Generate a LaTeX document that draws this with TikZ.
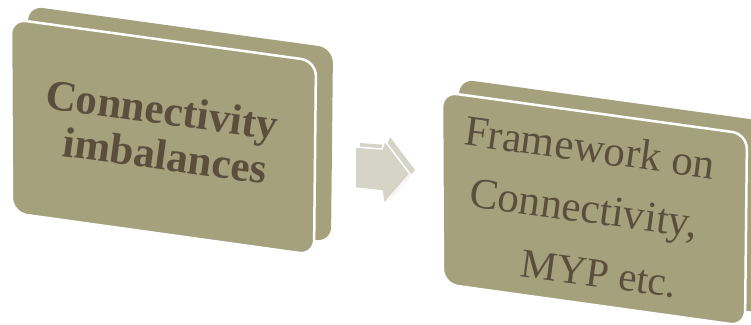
\documentclass[tikz,border=0pt]{standalone}
\usepackage{fontspec}
\setmainfont{Liberation Serif}
\definecolor{boxface}{RGB}{166,161,125}
\definecolor{boxtext}{RGB}{90,78,60}
\definecolor{arrowc}{RGB}{214,212,199}
\begin{document}
\begin{tikzpicture}[x=1pt,y=-1pt,
  slab/.style={fill=boxface, rounded corners=15pt},
  face/.style={fill=boxface, draw=white, line width=2.5pt, rounded corners=15pt},
  arrowback/.style={fill=arrowc},
  arrowfront/.style={fill=arrowc, draw=white, line width=1.5pt, line join=miter},
  lbl/.style={text=boxtext, anchor=base, rotate=-7.8, inner sep=0pt},
  boldlbl/.style={lbl, font=\bfseries\fontsize{43}{43}\selectfont},
  plainlbl/.style={lbl, font=\fontsize{43}{43}\selectfont}]
\useasboundingbox (0,0) rectangle (751,324);
\clip (0,0) rectangle (751,324);
% box 1
\fill[slab] (28,6) -- (333,48) -- (331,242) -- (29,200) -- cycle;
\draw[face] (11,19) -- (316,61) -- (314,255) -- (12,213) -- cycle;
\node[boldlbl] (t1a) at (160,124) {Connectivity};
\node[boldlbl] (t1b) at (163,170) {imbalances};
% arrow
\fill[arrowback] (360,143) -- (387,145) -- (390,137) -- (415,170) -- (389,200) -- (387,187) -- (360,184) -- cycle;
\draw[arrowfront] (355,147) -- (382,149) -- (385,141) -- (410,174) -- (384,204) -- (382,191) -- (355,188) -- cycle;
% box 2
\fill[slab] (459,79) -- (764,121) -- (762,313) -- (460,271) -- cycle;
\draw[face] (442,92) -- (747,134) -- (745,326) -- (443,284) -- cycle;
\node[plainlbl] (t2a) at (588,162) {Framework on};
\node[plainlbl] (t2b) at (582,222) {Connectivity,};
\node[plainlbl, font=\fontsize{41}{41}\selectfont] (t2c) at (597,287) {MYP etc.};
\end{tikzpicture}
\end{document}
